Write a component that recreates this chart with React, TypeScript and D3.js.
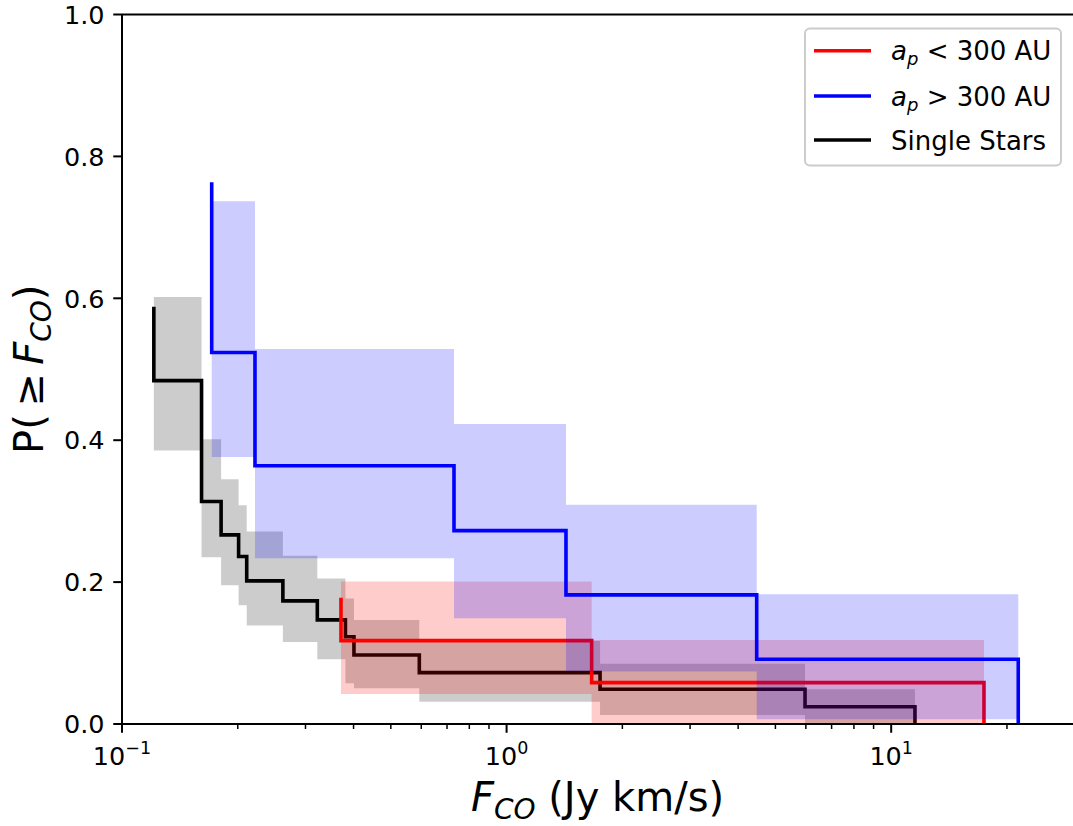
import React from "react";
import * as d3 from "d3";

// ---- data ----
// Single stars
const singleStart = 0.588;
const singleX = [0.121, 0.161, 0.181, 0.201, 0.211, 0.262, 0.322, 0.381, 0.401, 0.593, 1.75, 5.97, 11.53];
const singleLevels = [0.484, 0.3135, 0.2666, 0.236, 0.2017, 0.1735, 0.1467, 0.123, 0.0973, 0.0724, 0.049, 0.0244, 0];
const singleHi = [0.602, 0.4015, 0.345, 0.3084, 0.2713, 0.237, 0.205, 0.177, 0.1467, 0.117, 0.085, 0.049];
const singleLo = [0.3855, 0.235, 0.1956, 0.1674, 0.139, 0.1157, 0.0912, 0.0574, 0.0503, 0.0315, 0.0127, 0];

// a_p > 300 AU
const wideStart = 0.7635;
const wideX = [0.1711, 0.2217, 0.7299, 1.427, 4.47, 21.4];
const wideLevels = [0.5237, 0.3639, 0.2726, 0.182, 0.0912, 0];
const wideHi = [0.7367, 0.5285, 0.4227, 0.3089, 0.183];
const wideLo = [0.3762, 0.2337, 0.149, 0.074, 0.0066];

// a_p < 300 AU
const closeStart = 0.178;
const closeX = [0.371, 1.664, 17.43];
const closeLevels = [0.1175, 0.0583, 0];
const closeHi = [0.2007, 0.1185];
const closeLo = [0.0423, 0];

const yTicks = [0, 0.2, 0.4, 0.6, 0.8, 1.0];
const xMajor = [0.1, 1, 10];
const xMajorExp = ["\u22121", "0", "1"];

const W = 1073;
const H = 826;
const left = 122;
const right = 1073;
const top = 14.5;
const bottom = 724;

const FONT = "DejaVu Sans";

export default function App() {
  const x = d3.scaleLog().domain([0.1, 29.7]).range([left, right]);
  const y = d3.scaleLinear().domain([0, 1]).range([bottom, top]);

  const line = d3
    .line<[number, number]>()
    .x((d) => x(d[0]))
    .y((d) => y(d[1]))
    .curve(d3.curveStepAfter);

  type B = { x: number; lo: number; hi: number };
  const area = d3
    .area<B>()
    .x((d) => x(d.x))
    .y0((d) => y(d.lo))
    .y1((d) => y(d.hi))
    .curve(d3.curveStepAfter);

  const linePts = (start: number, xs: number[], lv: number[]) => {
    const pts: [number, number][] = [[xs[0], start]];
    xs.forEach((xv, i) => pts.push([xv, lv[i]]));
    return pts;
  };
  const bandPts = (xs: number[], hi: number[], lo: number[]) => {
    const pts: B[] = hi.map((h, i) => ({ x: xs[i], hi: h, lo: lo[i] }));
    pts.push({ x: xs[hi.length], hi: hi[hi.length - 1], lo: lo[lo.length - 1] });
    return pts;
  };

  const minor: number[] = [];
  [0.1, 1, 10].forEach((dec) => {
    for (let k = 2; k <= 9; k++) {
      const v = dec * k;
      if (v <= 29.7) minor.push(v);
    }
  });

  const lw = 3.6;

  const series = [
    { color: "#000000", fill: "rgba(0,0,0,0.2)", start: singleStart, xs: singleX, lv: singleLevels, hi: singleHi, lo: singleLo },
    { color: "#ff0000", fill: "rgba(255,0,0,0.2)", start: closeStart, xs: closeX, lv: closeLevels, hi: closeHi, lo: closeLo },
    { color: "#0000ff", fill: "rgba(0,0,255,0.2)", start: wideStart, xs: wideX, lv: wideLevels, hi: wideHi, lo: wideLo },
  ];

  const legendRows = [
    { color: "#ff0000", kind: "lt" },
    { color: "#0000ff", kind: "gt" },
    { color: "#000000", kind: "single" },
  ];
  const legY = [50.7, 96, 140];

  return (
    <svg
      width={W}
      height={H}
      style={{ position: "absolute", left: 0, top: 0, background: "#fff" }}
      fontFamily={FONT}
    >
      <rect x={0} y={0} width={W} height={H} fill="#fff" />
      {series.map((s, i) => (
        <g key={i}>
          <path d={line(linePts(s.start, s.xs, s.lv)) || ""} fill="none" stroke={s.color} strokeWidth={lw} />
          <path d={area(bandPts(s.xs, s.hi, s.lo)) || ""} fill={s.fill} stroke="none" />
        </g>
      ))}

      {/* spines */}
      <line x1={left} x2={left} y1={top} y2={bottom} stroke="#000" strokeWidth={2} />
      <line x1={left} x2={right + 2} y1={bottom} y2={bottom} stroke="#000" strokeWidth={2} />
      <line x1={left} x2={right + 2} y1={top} y2={top} stroke="#000" strokeWidth={2} />

      {/* y ticks */}
      {yTicks.map((t) => (
        <g key={t}>
          <line x1={left - 8.75} x2={left} y1={y(t)} y2={y(t)} stroke="#000" strokeWidth={2} />
          <text x={left - 17.5} y={y(t) + 9.2} textAnchor="end" fontSize={25.5} fill="#000">
            {t.toFixed(1)}
          </text>
        </g>
      ))}

      {/* x ticks */}
      {minor.map((t) => (
        <line key={"m" + t} x1={x(t)} x2={x(t)} y1={bottom} y2={bottom + 5} stroke="#000" strokeWidth={1.5} />
      ))}
      {xMajor.map((t, i) => (
        <g key={"M" + t}>
          <line x1={x(t)} x2={x(t)} y1={bottom} y2={bottom + 8.75} stroke="#000" strokeWidth={2} />
          <text x={x(t)} y={765} textAnchor="middle" fontSize={25.5} fill="#000">
            10
            <tspan fontSize={17.5} dy={-11}>
              {xMajorExp[i]}
            </tspan>
          </text>
        </g>
      ))}

      {/* x label */}
      <text x={(left + right) / 2} y={811} textAnchor="middle" fontSize={40} fill="#000">
        <tspan fontStyle="italic">F</tspan>
        <tspan fontStyle="italic" fontSize={28} dy={8}>
          CO
        </tspan>
        <tspan dy={-8}> (Jy km/s)</tspan>
      </text>

      {/* y label */}
      <text
        transform={`translate(43,${(top + bottom) / 2}) rotate(-90)`}
        textAnchor="middle"
        fontSize={40}
        fill="#000"
      >
        P(
        <tspan dx={8}>≥</tspan>
        <tspan fontStyle="italic" dx={8}>F</tspan>
        <tspan fontStyle="italic" fontSize={28} dy={8}>
          CO
        </tspan>
        <tspan dy={-8}>)</tspan>
      </text>

      {/* legend */}
      <rect x={805} y={28.5} width={256} height={137} rx={5} fill="rgba(255,255,255,0.8)" stroke="#cccccc" strokeWidth={2} />
      {legendRows.map((r, i) => (
        <g key={i}>
          <line x1={814} x2={871} y1={legY[i]} y2={legY[i]} stroke={r.color} strokeWidth={lw} />
          <text x={891} y={legY[i] + 9.5} fontSize={26} fill="#000">
            {r.kind === "single" ? (
              "Single Stars"
            ) : (
              <>
                <tspan fontStyle="italic">a</tspan>
                <tspan fontStyle="italic" fontSize={18} dy={5}>
                  p
                </tspan>
                <tspan dy={-5}>{r.kind === "lt" ? " < 300 AU" : " > 300 AU"}</tspan>
              </>
            )}
          </text>
        </g>
      ))}
    </svg>
  );
}
